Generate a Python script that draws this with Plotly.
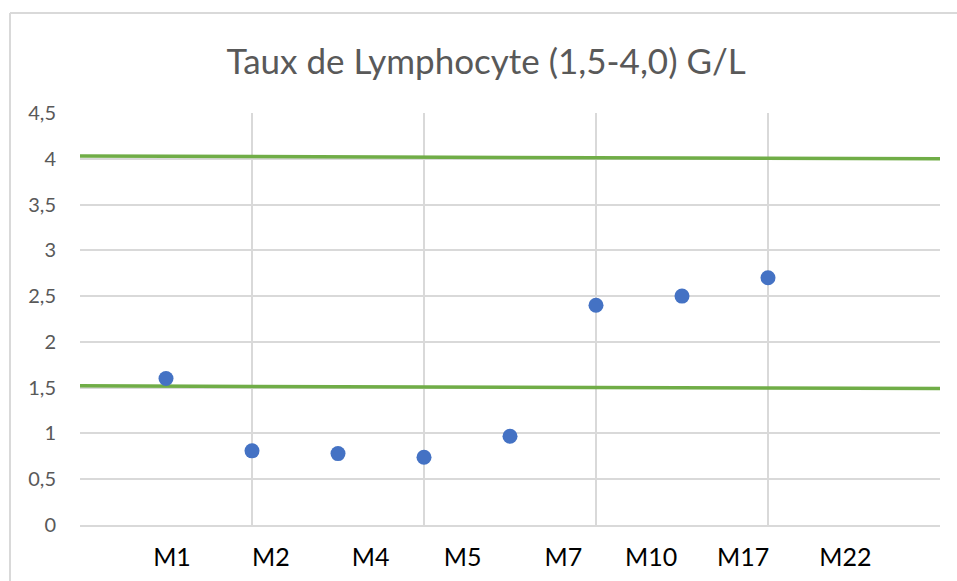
import plotly.graph_objects as go

# Lymphocyte counts (G/L) per follow-up visit
visit_index = [1, 2, 3, 4, 5, 6, 7, 8]
lymphocytes = [1.60, 0.81, 0.78, 0.74, 0.97, 2.40, 2.50, 2.70]

# Visit labels shown under the axis and where they sit on the x scale
month_labels = ["M1", "M2", "M4", "M5", "M7", "M10", "M17", "M22"]
label_pos = [1.07, 2.22, 3.38, 4.45, 5.62, 6.64, 7.71, 8.90]

# Reference range limits (1,5 - 4,0 G/L)
limit_x = [0, 10]
upper_limit = [4.03, 4.00]
lower_limit = [1.52, 1.49]

y_ticks = [0, 0.5, 1, 1.5, 2, 2.5, 3, 3.5, 4, 4.5]
x_grid = [0, 2, 4, 6, 8, 10]

GREEN = "#70AD47"
BLUE = "#4472C4"
GRID = "#D9D9D9"
FONT = "Lato"

fig = go.Figure()

fig.add_trace(go.Scatter(
    x=limit_x, y=upper_limit, mode="lines",
    line=dict(color=GREEN, width=3.5), hoverinfo="skip", showlegend=False,
))
fig.add_trace(go.Scatter(
    x=limit_x, y=lower_limit, mode="lines",
    line=dict(color=GREEN, width=3.5), hoverinfo="skip", showlegend=False,
))
fig.add_trace(go.Scatter(
    x=visit_index, y=lymphocytes, mode="markers",
    marker=dict(color=BLUE, size=15, line=dict(width=0)),
    showlegend=False, cliponaxis=False,
))

fig.update_layout(
    width=957, height=581,
    margin=dict(l=80, r=17, t=113, b=56, autoexpand=False),
    paper_bgcolor="white", plot_bgcolor="white",
    separators=", ",
    font=dict(family=FONT, color="#595959"),
    title=dict(
        text="Taux de Lymphocyte (1,5-4,0) G/L",
        x=0.508, xanchor="center", xref="container",
        y=1 - 62 / 581, yanchor="middle", yref="container",
        font=dict(family=FONT, size=35, color="#595959"),
    ),
    xaxis=dict(
        range=[0, 10], showgrid=False, zeroline=False, automargin=False,
        showline=True, linecolor=GRID, linewidth=2,
        tickmode="array", tickvals=label_pos, ticktext=month_labels,
        ticks="", ticklabelstandoff=9,
        tickfont=dict(family=FONT, size=25, color="#000000"),
        minor=dict(tickmode="array", tickvals=x_grid, showgrid=True,
                   gridcolor=GRID, gridwidth=1.5, ticks=""),
    ),
    yaxis=dict(
        range=[0, 4.5], tickmode="array", tickvals=y_ticks, automargin=False,
        showgrid=True, gridcolor=GRID, gridwidth=1.5, zeroline=False,
        showline=False, ticks="", ticklabelstandoff=23,
        tickfont=dict(family=FONT, size=20, color="#595959"),
    ),
    shapes=[
        # chart-area border (left and top edges)
        dict(type="line", xref="paper", yref="paper",
             x0=(10 - 80) / 860, x1=(10 - 80) / 860,
             y0=(525 - 13) / 412, y1=(525 - 600) / 412,
             line=dict(color=GRID, width=2)),
        dict(type="line", xref="paper", yref="paper",
             x0=(10 - 80) / 860, x1=(1000 - 80) / 860,
             y0=(525 - 13) / 412, y1=(525 - 13) / 412,
             line=dict(color=GRID, width=2)),
    ],
)

fig.write_html("out.html")
